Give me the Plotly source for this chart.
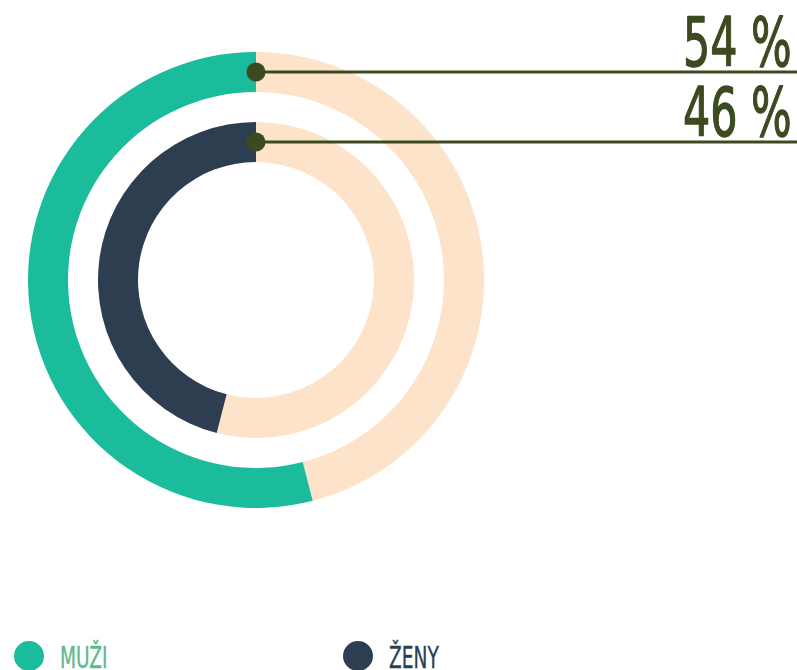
import plotly.graph_objects as go

# ---- data ----
categories = ["MUŽI", "ŽENY"]
shares = [54, 46]                      # percent
series_colors = ["#1ABC9C", "#2D3E50"]
rest_color = "#FDE3C9"
label_color = "#3B4A1F"
legend_text_colors = ["#5FB98C", "#2D3E50"]

W, H = 797, 670
CX, CY = 256, 280                       # ring centre (px, from top-left)
rings = [(228, 188), (158, 118)]        # (outer, inner) radius px

FONT = "DejaVu Sans, sans-serif"

fig = go.Figure()
def px_x(x): return x / W
def px_y(y): return 1 - y / H

for (ro, ri), val, col in zip(rings, shares, series_colors):
    # remainder first, share last -> share ends at 12 o'clock, running counterclockwise from it
    fig.add_trace(go.Pie(
        values=[100 - val, val],
        labels=["rest", "share"],
        marker=dict(colors=[rest_color, col], line=dict(width=0)),
        hole=ri / ro,
        sort=False,
        direction="clockwise",
        rotation=0,
        textinfo="none",
        hoverinfo="skip",
        showlegend=False,
        domain=dict(x=[px_x(CX - ro), px_x(CX + ro)],
                    y=[px_y(CY + ro), px_y(CY - ro)]),
    ))

shapes = []
annotations = []
for (ro, ri), val in zip(rings, shares):
    ym = CY - (ro + ri) / 2
    shapes.append(dict(type="line", xref="paper", yref="paper",
                       x0=px_x(CX), x1=1.0, y0=px_y(ym), y1=px_y(ym),
                       line=dict(color=label_color, width=3)))
    shapes.append(dict(type="circle", xref="paper", yref="paper",
                       x0=px_x(CX - 9.5), x1=px_x(CX + 9.5),
                       y0=px_y(ym + 9.5), y1=px_y(ym - 9.5),
                       fillcolor=label_color, line=dict(width=0)))
    annotations.append(dict(xref="paper", yref="paper", x=px_x(794), y=px_y(ym + 12),
                            xanchor="right", yanchor="bottom", showarrow=False,
                            text=f"{val} %",
                            font=dict(family=FONT, size=68, color=label_color)))

# legend
leg_x = [29, 358]
for name, col, tcol, lx in zip(categories, series_colors, legend_text_colors, leg_x):
    shapes.append(dict(type="circle", xref="paper", yref="paper",
                       x0=px_x(lx - 15), x1=px_x(lx + 15),
                       y0=px_y(656 + 15), y1=px_y(656 - 15),
                       fillcolor=col, line=dict(width=0)))
    annotations.append(dict(xref="paper", yref="paper", x=px_x(lx + 29), y=px_y(657),
                            xanchor="left", yanchor="middle", showarrow=False,
                            text=name,
                            font=dict(family=FONT, size=31, color=tcol)))

fig.update_layout(
    width=W, height=H,
    margin=dict(l=0, r=0, t=0, b=0),
    paper_bgcolor="white", plot_bgcolor="white",
    shapes=shapes, annotations=annotations,
    showlegend=False,
)

# remove page margin and narrow the text horizontally (condensed look)
post = """
document.body.style.margin = '0';
var gd = document.getElementsByClassName('plotly-graph-div')[0];
function squeeze() {
  var texts = gd.querySelectorAll('.annotation-text');
  texts.forEach(function(t, i) {
    t.removeAttribute('transform');
    var b = t.getBBox();
    var big = i < 2;
    var s = big ? 0.63 : 0.6;
    var ax = big ? (b.x + b.width) : b.x;
    t.setAttribute('transform', 'translate(' + (ax * (1 - s)) + ',0) scale(' + s + ',1)');
    var c = t.style.fill || window.getComputedStyle(t).fill;
    t.style.stroke = c;
    t.style.strokeWidth = big ? '1.4px' : '0.4px';
    t.style.strokeLinejoin = 'round';
  });
}
squeeze();
"""
fig.write_html("out.html", post_script=post, config={"displayModeBar": False})
